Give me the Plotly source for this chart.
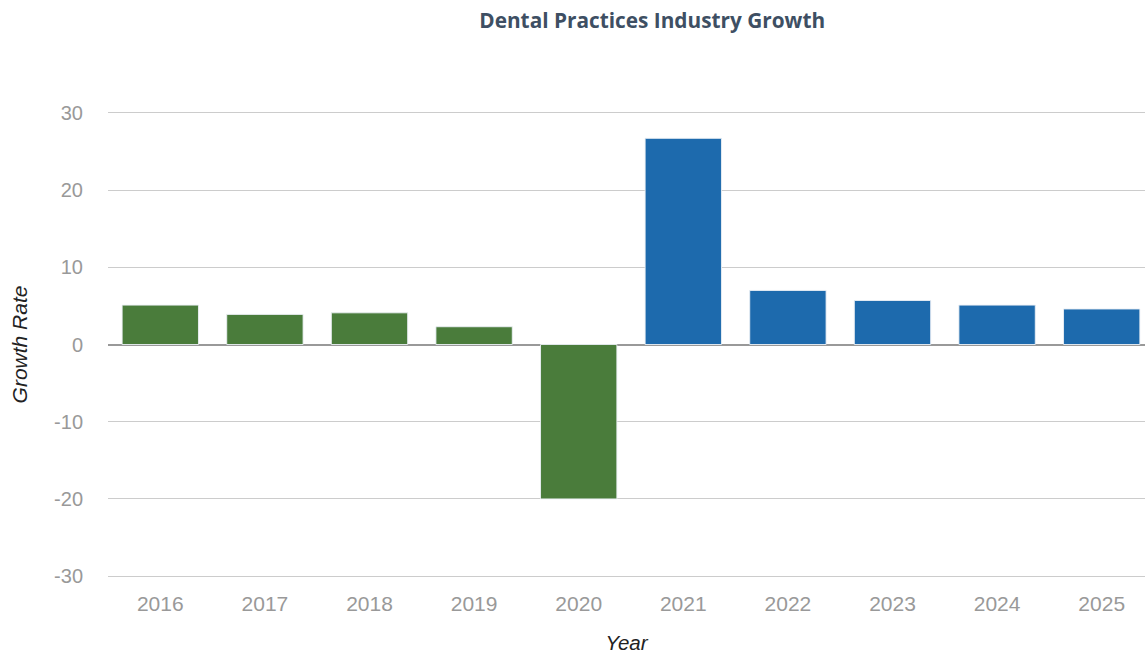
import plotly.graph_objects as go

# Annual growth rate of the dental practices industry
years = ["2016", "2017", "2018", "2019", "2020", "2021", "2022", "2023", "2024", "2025"]
growth = [5.1, 3.9, 4.1, 2.3, -20.0, 26.7, 7.0, 5.7, 5.1, 4.6]
y_ticks = [-30, -20, -10, 0, 10, 20, 30]
y_tick_text = ["-30", "-20", "-10", "0", "10", "20", "30"]
# historical years in green, projected years in blue
historical_color = "#4a7c3b"
forecast_color = "#1d6aad"
bar_colors = [historical_color] * 5 + [forecast_color] * 5

fig = go.Figure(
    go.Bar(
        x=years,
        y=growth,
        marker=dict(color=bar_colors, line=dict(color="rgba(235,240,245,0.9)", width=1)),
        hovertemplate="%{x}: %{y}<extra></extra>",
    )
)

fig.update_layout(
    width=1145,
    height=654,
    margin=dict(l=108, r=0, t=109, b=74),
    paper_bgcolor="white",
    plot_bgcolor="white",
    bargap=0.27,
    showlegend=False,
    title=dict(
        text="<b>Dental Practices Industry Growth</b>",
        x=0.5696,
        xanchor="center",
        y=0.969,
        yanchor="middle",
        font=dict(family="Open Sans", size=20.8, color="#3e4f63"),
    ),
    font=dict(family="Liberation Sans", size=20, color="#999999"),
)

fig.update_xaxes(
    type="category",
    range=[-0.5, 9.414],
    showgrid=False,
    showline=False,
    zeroline=False,
    ticks="",
    ticklabelstandoff=9,
    tickfont=dict(family="Liberation Sans", size=21, color="#999999"),
    title=dict(text="<i>Year</i>", font=dict(family="Liberation Sans", size=20.5, color="#222222"), standoff=21),
)

fig.update_yaxes(
    range=[-30.5, 30.5],
    tickvals=y_ticks,
    ticktext=y_tick_text,
    showgrid=True,
    gridcolor="#cccccc",
    gridwidth=1,
    zeroline=True,
    zerolinecolor="#999999",
    zerolinewidth=2,
    showline=False,
    ticks="",
    ticklabelstandoff=24,
    tickfont=dict(family="Liberation Sans", size=20, color="#999999"),
    title=dict(text="<i>Growth Rate</i>", font=dict(family="Liberation Sans", size=21, color="#222222"), standoff=20),
)

fig.write_html("out.html")
